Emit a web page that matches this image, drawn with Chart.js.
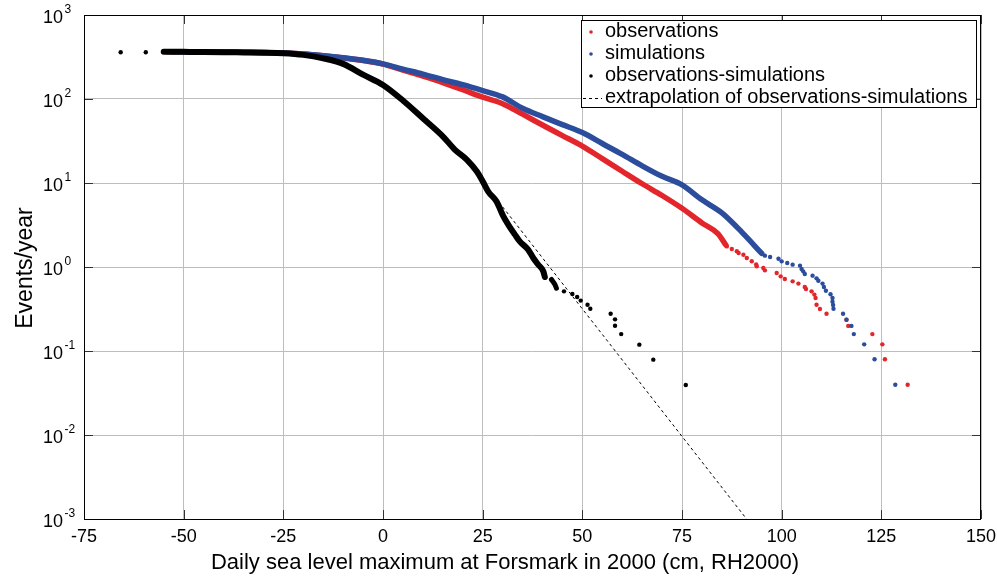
<!DOCTYPE html>
<html><head><meta charset="utf-8">
<script src="https://cdn.jsdelivr.net/npm/chart.js@4/dist/chart.umd.min.js"></script>
<style>html,body{margin:0;padding:0;background:#fff}#wrap{width:997px;height:577px;position:relative}</style>
</head><body><div id="wrap"><canvas id="c" width="997" height="577"></canvas></div>
<script>
// ---------- data ----------
const xTickValues = [-75, -50, -25, 0, 25, 50, 75, 100, 125, 150];
const yExponents = [-3, -2, -1, 0, 1, 2, 3];
const legendLabels = ['observations', 'simulations', 'observations-simulations', 'extrapolation of observations-simulations'];
const xTitle = 'Daily sea level maximum at Forsmark in 2000 (cm, RH2000)';
const yTitle = 'Events/year';

// observations (red) – dense part
const obsBandX = [-54, -50, -45, -40, -35, -30, -25, -20, -15, -10, -5, 0, 5, 10, 15, 20, 25, 30, 35, 40, 45, 50, 55, 60, 65, 70, 75, 80, 84, 86];
const obsBandY = [365, 364, 363, 362, 360, 357, 352, 343, 327, 308, 287, 260, 220, 187, 157, 129, 105, 88, 66, 49, 36.7, 27.5, 19.5, 13.8, 9.8, 7.1, 5.0, 3.35, 2.5, 1.83];
// observations – sparse tail
const obsTailX = [86.25, 87.5, 88.75, 89.2, 90.4, 91.25, 92.5, 93.6, 93.75, 95.4, 95.8, 98.75, 99.75, 100.8, 102.75, 104.2, 105.8, 106.1, 107.5, 108.2, 108.5, 108.75, 109.6, 111.25, 116.25, 116.7, 122.75, 125.25, 125.9, 131.6];
const obsTailY = [1.76, 1.64, 1.54, 1.47, 1.40, 1.28, 1.17, 1.07, 1.02, 0.973, 0.912, 0.849, 0.774, 0.719, 0.675, 0.634, 0.578, 0.547, 0.513, 0.469, 0.428, 0.356, 0.316, 0.278, 0.236, 0.199, 0.159, 0.12, 0.0796, 0.0397];

// simulations (blue) – dense part
const simBandX = [-53, -50, -45, -40, -35, -30, -25, -20, -15, -10, -5, 0, 5, 10, 15, 20, 25, 30, 35, 40, 45, 50, 55, 60, 65, 70, 75, 80, 85, 90, 95];
const simBandY = [365, 364, 363, 362, 360, 357, 352, 343, 328, 310, 289, 262, 227, 198, 170, 148, 126, 106, 77.6, 61.7, 49.5, 39.8, 29.5, 21.9, 16, 12, 9.5, 6.3, 4.4, 2.6, 1.45];
// simulations – sparse tail
const simTailX = [95.8, 97.1, 99.2, 100, 101.4, 102.75, 104.6, 105, 105.4, 105.8, 107.75, 108.75, 109.2, 110.25, 110.6, 111.1, 112.25, 112.75, 112.75, 112.9, 113, 115.4, 116.25, 117.5, 118.1, 120.7, 123.3, 128.5];
const simTailY = [1.365, 1.315, 1.256, 1.167, 1.117, 1.067, 1.037, 0.946, 0.887, 0.826, 0.789, 0.733, 0.687, 0.634, 0.578, 0.522, 0.473, 0.428, 0.386, 0.353, 0.319, 0.278, 0.236, 0.199, 0.159, 0.12, 0.0796, 0.0397];

// observations-simulations (black) – dense parts
const diffBandX = [-55, -50, -45, -40, -35, -30, -25, -20, -15, -10, -5, 0, 5, 10, 15, 18, 21, 23.5, 25, 26.4, 28.5, 30.2, 31.4, 33.1, 34.3, 36.4, 37.7, 38.9, 40.2, 40.6];
const diffBandY = [365, 364, 363, 361, 358, 355, 350, 335, 305, 262, 195, 147, 96, 59, 36, 25, 19, 13.8, 10.5, 7.9, 6.0, 4.0, 3.2, 2.43, 2.02, 1.61, 1.28, 1.07, 0.89, 0.76];
const diffBand2X = [42.25, 43.1, 43.5];
const diffBand2Y = [0.71, 0.62, 0.56];
// observations-simulations – isolated points
const diffDotsX = [-65.8, -59.5, 45.4, 47.5, 48.7, 49.6, 51.3, 52, 57.1, 58.2, 58.2, 59.75, 64.3, 67.8, 75.95];
const diffDotsY = [360, 360, 0.513, 0.478, 0.44, 0.398, 0.356, 0.319, 0.278, 0.238, 0.2, 0.159, 0.119, 0.0789, 0.0394];

// extrapolation line end points
const extrapX = [30, 91.2];
const extrapY = [5.2, 0.001];

// ---------- styling ----------
const RED = '#e3262b', BLUE = '#2c4c9c', BLACK = '#000';
const FONT = "'Liberation Sans', Arial, Helvetica, sans-serif";
const pts = (xs, ys) => xs.map((x, i) => ({x, y: ys[i]}));

const band = (xs, ys, color, w, order) => ({
  data: pts(xs, ys), showLine: true, borderColor: color, borderWidth: w,
  pointRadius: 0, cubicInterpolationMode: 'monotone', borderCapStyle: 'round',
  borderJoinStyle: 'round', order, fill: false
});
const dots = (xs, ys, color, order) => ({
  data: pts(xs, ys), showLine: false, backgroundColor: color, borderWidth: 0,
  pointRadius: 2.2, pointHoverRadius: 2.2, order
});

const deco = {
  id: 'deco',
  afterDraw(chart) {
    const {ctx, chartArea: a, scales: {x, y}} = chart;
    ctx.save();
    // inward tick marks
    ctx.strokeStyle = '#333'; ctx.lineWidth = 1;
    ctx.beginPath();
    xTickValues.forEach(v => {
      const px = Math.round(x.getPixelForValue(v)) + 0.5;
      ctx.moveTo(px, a.bottom); ctx.lineTo(px, a.bottom - 9);
      ctx.moveTo(px, a.top); ctx.lineTo(px, a.top + 9);
    });
    yExponents.forEach(e => {
      const py = Math.round(y.getPixelForValue(Math.pow(10, e))) + 0.5;
      ctx.moveTo(a.left, py); ctx.lineTo(a.left + 9, py);
      ctx.moveTo(a.right, py); ctx.lineTo(a.right - 9, py);
    });
    ctx.stroke();
    // box
    ctx.strokeStyle = '#000';
    ctx.strokeRect(a.left + 0.5, a.top + 0.5, a.right - a.left - 1, a.bottom - a.top);
    // y tick labels with superscripts
    ctx.fillStyle = '#000'; ctx.textBaseline = 'middle'; ctx.textAlign = 'left';
    yExponents.forEach(e => {
      const py = y.getPixelForValue(Math.pow(10, e));
      ctx.font = '18px ' + FONT;
      ctx.fillText('10', 43, py + 3);
      const w = ctx.measureText('10').width;
      ctx.font = '12px ' + FONT;
      ctx.fillText(String(e), 43 + w + 1.5, py - 5);
    });
    // axis titles
    ctx.font = '22px ' + FONT;
    ctx.textAlign = 'center';
    ctx.fillText(xTitle, 505, 563);
    ctx.font = '23px ' + FONT;
    ctx.save();
    ctx.translate(26, 268); ctx.rotate(-Math.PI / 2);
    ctx.fillText(yTitle, 0, 0);
    ctx.restore();
    // legend
    const L = 581.5, T = 20.5, R = 976.5, B = 107.5;
    ctx.fillStyle = '#fff'; ctx.fillRect(L, T, R - L, B - T);
    ctx.strokeStyle = '#000'; ctx.lineWidth = 1; ctx.strokeRect(L, T, R - L, B - T);
    ctx.font = '20px ' + FONT; ctx.textAlign = 'left'; ctx.fillStyle = '#000';
    const rows = [31, 53, 75, 97];
    const cols = [RED, BLUE, BLACK];
    legendLabels.forEach((t, i) => {
      if (i < 3) {
        ctx.fillStyle = cols[i];
        ctx.beginPath(); ctx.arc(591, rows[i] + 1, 1.8, 0, Math.PI * 2); ctx.fill();
      } else {
        ctx.strokeStyle = '#000'; ctx.setLineDash([3, 3]);
        ctx.beginPath(); ctx.moveTo(583, rows[i] + 1.5); ctx.lineTo(602, rows[i] + 1.5); ctx.stroke();
        ctx.setLineDash([]);
      }
      ctx.fillStyle = '#000';
      ctx.fillText(t, 605, rows[i]);
    });
    ctx.restore();
  }
};

new Chart(document.getElementById('c'), {
  type: 'scatter',
  data: {
    datasets: [
      band(diffBandX, diffBandY, BLACK, 6, 1),
      band(diffBand2X, diffBand2Y, BLACK, 5, 1),
      dots(diffDotsX, diffDotsY, BLACK, 1),
      {data: pts(extrapX, extrapY), showLine: true, borderColor: '#000', borderWidth: 1,
       borderDash: [3, 3], pointRadius: 0, order: 0},
      band(simBandX, simBandY, BLUE, 5.5, 2),
      dots(simTailX, simTailY, BLUE, 2),
      band(obsBandX, obsBandY, RED, 5.5, 3),
      dots(obsTailX, obsTailY, RED, 3)
    ]
  },
  options: {
    responsive: false, animation: false, devicePixelRatio: 1,
    layout: {padding: {top: 15, right: 16, left: 0, bottom: 0}},
    plugins: {legend: {display: false}, tooltip: {enabled: false}},
    scales: {
      x: {
        type: 'linear', min: -75, max: 150,
        ticks: {stepSize: 25, color: '#000', font: {family: FONT, size: 18}, padding: 7, maxRotation: 0},
        grid: {color: '#bdbdbd', drawTicks: false, lineWidth: 1},
        border: {display: false},
        afterFit(s) { s.height = 58; s.paddingLeft = 0; s.paddingRight = 0; }
      },
      y: {
        type: 'logarithmic', min: 0.001, max: 1000,
        afterBuildTicks(s) { s.ticks = yExponents.map(e => ({value: Math.pow(10, e)})); },
        ticks: {display: false},
        grid: {color: '#bdbdbd', drawTicks: false, lineWidth: 1},
        border: {display: false},
        afterFit(s) { s.width = 84; s.paddingTop = 0; s.paddingBottom = 0; }
      }
    }
  },
  plugins: [deco]
});
</script>
</body></html>
